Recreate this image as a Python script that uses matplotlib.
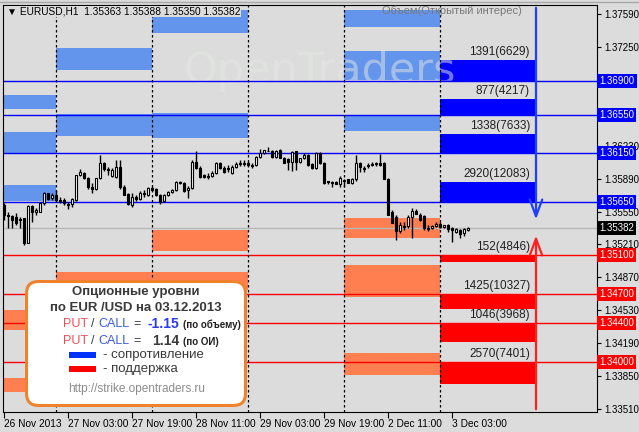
import numpy as np
import matplotlib.pyplot as plt
from matplotlib.patches import Rectangle, FancyBboxPatch

plt.rcParams['font.family'] = ['Liberation Sans', 'DejaVu Sans']

# EURUSD H1, свечи (26 Nov 11:00 ... 3 Dec 07:00)
opens = [1.3562, 1.3551, 1.3550, 1.3549, 1.3547, 1.3548, 1.3522, 1.3561, 1.3554, 1.3555,
         1.3564, 1.3574, 1.3569, 1.3572, 1.3567, 1.3567, 1.3563, 1.3563, 1.3567, 1.3593,
         1.3595, 1.3590, 1.3580, 1.3578, 1.3590, 1.3605, 1.3599, 1.3592, 1.3591, 1.3601,
         1.3580, 1.3573, 1.3562, 1.3570, 1.3568, 1.3574, 1.3572, 1.3579, 1.3578, 1.3572,
         1.3566, 1.3572, 1.3575, 1.3577, 1.3585, 1.3584, 1.3577, 1.3579, 1.3606, 1.3600,
         1.3593, 1.3592, 1.3592, 1.3595, 1.3605, 1.3600, 1.3600, 1.3595, 1.3601, 1.3605,
         1.3605, 1.3605, 1.3603, 1.3603, 1.3611, 1.3615, 1.3618, 1.3618, 1.3611, 1.3619,
         1.3610, 1.3609, 1.3606, 1.3617, 1.3606, 1.3610, 1.3613, 1.3604, 1.3600, 1.3615,
         1.3605, 1.3586, 1.3585, 1.3585, 1.3583, 1.3587, 1.3589, 1.3584, 1.3589, 1.3605,
         1.3600, 1.3603, 1.3604, 1.3604, 1.3605, 1.3605, 1.3589, 1.3555, 1.3549, 1.3535,
         1.3540, 1.3540, 1.3549, 1.3556, 1.3551, 1.3550, 1.3538, 1.3538, 1.3540, 1.3542,
         1.3539, 1.3541, 1.3538, 1.3534, 1.3536, 1.3533, 1.35363]
highs = [1.3564, 1.3554, 1.3551, 1.3553, 1.3549, 1.3548, 1.3562, 1.3562, 1.3559, 1.3564,
         1.3575, 1.3574, 1.3574, 1.3577, 1.3570, 1.3569, 1.3565, 1.3569, 1.3593, 1.3599,
         1.3596, 1.3591, 1.3584, 1.3590, 1.3613, 1.3606, 1.3601, 1.3600, 1.3608, 1.3608,
         1.3582, 1.3574, 1.3574, 1.3572, 1.3576, 1.3577, 1.3580, 1.3581, 1.3579, 1.3573,
         1.3573, 1.3576, 1.3578, 1.3587, 1.3587, 1.3585, 1.3581, 1.3608, 1.3618, 1.3602,
         1.3594, 1.3595, 1.3597, 1.3606, 1.3606, 1.3602, 1.3603, 1.3603, 1.3606, 1.3608,
         1.3608, 1.3607, 1.3605, 1.3612, 1.3620, 1.3619, 1.3622, 1.3619, 1.3619, 1.3620,
         1.3611, 1.3610, 1.3617, 1.3618, 1.3610, 1.3615, 1.3614, 1.3605, 1.3616, 1.3616,
         1.3606, 1.3587, 1.3586, 1.3586, 1.3592, 1.3589, 1.3589, 1.3590, 1.3613, 1.3606,
         1.3602, 1.3605, 1.3606, 1.3606, 1.3614, 1.3606, 1.3590, 1.3557, 1.3551, 1.3544,
         1.3544, 1.3551, 1.3559, 1.3558, 1.3553, 1.3551, 1.3541, 1.3541, 1.3544, 1.3544,
         1.3541, 1.3542, 1.3539, 1.3538, 1.3537, 1.3538, 1.35388]
lows = [1.3546, 1.3538, 1.3538, 1.3541, 1.3538, 1.3520, 1.3522, 1.3544, 1.3551, 1.3555,
        1.3562, 1.3567, 1.3567, 1.3565, 1.3564, 1.3562, 1.3558, 1.3560, 1.3566, 1.3592,
        1.3589, 1.3578, 1.3574, 1.3577, 1.3589, 1.3597, 1.3593, 1.3591, 1.3590, 1.3578,
        1.3572, 1.3562, 1.3560, 1.3566, 1.3567, 1.3570, 1.3571, 1.3576, 1.3571, 1.3563,
        1.3565, 1.3571, 1.3574, 1.3576, 1.3583, 1.3575, 1.3569, 1.3578, 1.3599, 1.3590,
        1.3590, 1.3589, 1.3591, 1.3594, 1.3599, 1.3595, 1.3596, 1.3594, 1.3600, 1.3602,
        1.3602, 1.3602, 1.3600, 1.3602, 1.3610, 1.3614, 1.3617, 1.3610, 1.3610, 1.3610,
        1.3605, 1.3598, 1.3597, 1.3598, 1.3605, 1.3609, 1.3602, 1.3599, 1.3599, 1.3604,
        1.3583, 1.3583, 1.3580, 1.3583, 1.3580, 1.3580, 1.3584, 1.3583, 1.3587, 1.3596,
        1.3596, 1.3600, 1.3602, 1.3602, 1.3602, 1.3589, 1.3551, 1.3543, 1.3526, 1.3533,
        1.3536, 1.3538, 1.3528, 1.3552, 1.3545, 1.3536, 1.3535, 1.3537, 1.3539, 1.3538,
        1.3538, 1.3534, 1.3523, 1.3533, 1.3528, 1.3530, 1.35350]
closes = [1.3551, 1.3550, 1.3546, 1.3543, 1.3546, 1.3522, 1.3561, 1.3554, 1.3557, 1.3564,
          1.3574, 1.3568, 1.3572, 1.3567, 1.3566, 1.3564, 1.3562, 1.3568, 1.3593, 1.3596,
          1.3590, 1.3580, 1.3578, 1.3590, 1.3605, 1.3599, 1.3598, 1.3598, 1.3601, 1.3580,
          1.3572, 1.3563, 1.3570, 1.3568, 1.3574, 1.3573, 1.3579, 1.3577, 1.3572, 1.3565,
          1.3572, 1.3575, 1.3577, 1.3585, 1.3584, 1.3576, 1.3579, 1.3606, 1.3600, 1.3591,
          1.3591, 1.3591, 1.3595, 1.3605, 1.3600, 1.3596, 1.3599, 1.3601, 1.3604, 1.3604,
          1.3604, 1.3603, 1.3602, 1.3611, 1.3615, 1.3619, 1.3617, 1.3611, 1.3618, 1.3610,
          1.3605, 1.3606, 1.3616, 1.3606, 1.3610, 1.3613, 1.3603, 1.3600, 1.3615, 1.3605,
          1.3584, 1.3585, 1.3584, 1.3583, 1.3590, 1.3588, 1.3584, 1.3589, 1.3605, 1.3601,
          1.3599, 1.3602, 1.3603, 1.3605, 1.3603, 1.3589, 1.3551, 1.3543, 1.3535, 1.3541,
          1.3539, 1.3549, 1.3556, 1.3552, 1.3546, 1.3538, 1.3537, 1.3540, 1.3542, 1.3539,
          1.3541, 1.3537, 1.3536, 1.3537, 1.3532, 1.3537, 1.35382]
last_price = 1.35382

# подписи оси времени
time_pos = [0, 16, 32, 48, 64, 80, 96, 112]
time_labels = ['26 Nov 2013', '27 Nov 03:00', '27 Nov 19:00', '28 Nov 11:00',
               '29 Nov 03:00', '29 Nov 19:00', '2 Dec 11:00', '3 Dec 03:00']
day_starts = [13, 37, 61, 85, 109]
# подписи шкалы цен (1.36570 и 1.36910 закрыты метками уровней)
price_ticks = [1.33510, 1.33850, 1.34190, 1.34530, 1.34870, 1.35210, 1.35550,
               1.35890, 1.36230, 1.36570, 1.36910, 1.37250, 1.37590]
price_tick_labels = ['1.33510', '1.33850', '1.34190', '1.34530', '1.34870', '1.35210',
                     '1.35550', '1.35890', '1.36230', '', '', '1.37250', '1.37590']

# уровни прошлых дней: (начало, конец, низ, верх, тип)
past_start = [-1, -1, -1, -1, -1, 13, 13, 13, 37, 37, 37, 37, 85, 85, 85, 85, 85, 85]
past_end = [13, 13, 13, 13, 13, 37, 37, 37, 61, 61, 61, 61, 109, 109, 109, 109, 109, 109]
past_low = [1.3661, 1.3615, 1.3566, 1.3433, 1.3369,
            1.3701, 1.3633, 1.3474,
            1.3739, 1.3631, 1.3514, 1.3474,
            1.3746, 1.3691, 1.3638, 1.3528, 1.3467, 1.3386]
past_high = [1.3675, 1.3637, 1.3582, 1.3453, 1.3383,
             1.3724, 1.3656, 1.3493,
             1.3763, 1.3657, 1.3536, 1.3493,
             1.3763, 1.3721, 1.3655, 1.3548, 1.3500, 1.3409]
past_kind = ['r', 'r', 'r', 's', 's',
             'r', 'r', 's',
             'r', 'r', 's', 's',
             'r', 'r', 'r', 's', 's', 's']

# текущие опционные уровни
resist_levels = [1.3690, 1.3655, 1.3615, 1.3565]
resist_tops = [1.37115, 1.36712, 1.36350, 1.35855]
resist_labels = ['1391(6629)', '877(4217)', '1338(7633)', '2920(12083)']
support_levels = [1.3510, 1.3470, 1.3440, 1.3400]
support_bottoms = [1.35028, 1.34543, 1.34202, 1.33768]
support_labels = ['152(4846)', '1425(10327)', '1046(3968)', '2570(7401)']
resist_arrow_tip = 1.3544
support_arrow_tip = 1.3533

bg = '#dcdcdc'
fig = plt.figure(figsize=(6.39, 4.32), dpi=100)
fig.patch.set_facecolor(bg)
ax = fig.add_axes([3 / 639, 20 / 432, 594 / 639, 407 / 432])
ax.set_facecolor(bg)
ax.set_xlim(-0.25, 148.25)
ax.set_ylim(1.33479, 1.37683)

# прошлые уровни
for s, e, lo, hi, k in zip(past_start, past_end, past_low, past_high, past_kind):
    c = '#6495ed' if k == 'r' else '#ff7f50'
    ax.add_patch(Rectangle((s, lo), e - s, hi - lo, fc=c, ec='none', zorder=1))

ax.text(79, 1.3700, 'OpenTraders', fontsize=31, color='#e4e8e4', alpha=0.5,
        ha='center', va='center', zorder=1.5, family='DejaVu Sans')

# текущие уровни
cur_start, cur_end = day_starts[-1], 133
for lvl, top, lab in zip(resist_levels, resist_tops, resist_labels):
    ax.add_patch(Rectangle((cur_start, lvl), cur_end - cur_start, top - lvl,
                           fc='#0000ff', ec='none', zorder=1))
    ax.text(131.5, top + 0.0002, lab, fontsize=8.5, ha='right', va='bottom',
            color='#202020', zorder=3)
    ax.axhline(lvl, color='#0000ff', lw=1, zorder=2)
for lvl, bot, lab in zip(support_levels, support_bottoms, support_labels):
    ax.add_patch(Rectangle((cur_start, bot), cur_end - cur_start, lvl - bot,
                           fc='#ff0000', ec='none', zorder=1))
    ax.text(131.5, lvl + 0.0002, lab, fontsize=8.5, ha='right', va='bottom',
            color='#202020', zorder=3)
    ax.axhline(lvl, color='#ff0000', lw=1, zorder=2)
ax.axhline(last_price, color='#b8b8b8', lw=1, zorder=2)

for d in day_starts:
    ax.axvline(d, color='black', lw=0.9, ls=(0, (2, 2)), zorder=3)

# свечи
x = np.arange(len(opens))
o = np.array(opens)
c = np.array(closes)
ax.vlines(x, lows, highs, color='black', lw=1, zorder=4)
up = c >= o
ax.bar(x[up], c[up] - o[up], bottom=o[up], width=0.65, color='white',
       edgecolor='black', lw=0.8, zorder=5)
ax.bar(x[~up], c[~up] - o[~up], bottom=o[~up], width=0.65, color='black',
       edgecolor='black', lw=0.8, zorder=5)

# стрелки
ax.annotate('', xy=(133, resist_arrow_tip), xytext=(133, 1.37683),
            arrowprops=dict(arrowstyle='->,head_length=1.2,head_width=0.45',
                            color='#2040ff', lw=1.6), zorder=6)
ax.annotate('', xy=(133, support_arrow_tip), xytext=(133, 1.33479),
            arrowprops=dict(arrowstyle='->,head_length=1.2,head_width=0.45',
                            color='#ff2020', lw=1.6), zorder=6)

# оси
ax.yaxis.tick_right()
ax.set_yticks(price_ticks)
ax.set_yticklabels(price_tick_labels)
ax.tick_params(axis='y', length=3, pad=2, labelsize=7, width=0.8)
ax.set_xticks(time_pos)
ax.set_xticklabels(time_labels, ha='left')
ax.tick_params(axis='x', length=4, pad=1, labelsize=7.3, width=0.8)
for sp in ax.spines.values():
    sp.set_linewidth(0.8)

ytr = ax.get_yaxis_transform()
for lvl, col in zip(resist_levels + support_levels, ['#0000ff'] * 4 + ['#ff0000'] * 4):
    ax.text(1.004, lvl, '%.5f' % lvl, transform=ytr, fontsize=7, color='white',
            va='center', ha='left', clip_on=False, zorder=10,
            bbox=dict(fc=col, ec='none', pad=1.5))
ax.text(1.004, last_price, '%.5f' % last_price, transform=ytr, fontsize=7, color='white',
        va='center', ha='left', clip_on=False, zorder=10,
        bbox=dict(fc='black', ec='none', pad=1.5))

ax.text(0.006, 0.997, '\u25bc EURUSD,H1  1.35363 1.35388 1.35350 1.35382',
        transform=ax.transAxes, fontsize=7.3, va='top', ha='left', zorder=10,
        bbox=dict(fc=bg, ec='none', pad=0.5))
ax.text(112, 1.37675, 'Объем(Открытый интерес)', fontsize=8, color='#787878',
        ha='center', va='top', zorder=10)
fig.add_artist(plt.Line2D([0, 1], [1 - 1.5 / 432] * 2, color='#a8a8a8', lw=1))

# легенда
lax = fig.add_axes([25 / 639, 1 - 407 / 432, 222 / 639, 127 / 432])
lax.set_xlim(0, 222)
lax.set_ylim(127, 0)
lax.axis('off')
lax.add_patch(FancyBboxPatch((1.5, 1.5), 219, 124, boxstyle='round,pad=0,rounding_size=12',
                             fc='white', ec='#f0822d', lw=2.2))
dark = '#3a3a3a'
lax.text(111, 12, 'Опционные уровни', fontsize=9.5, weight='bold', color=dark,
         ha='center', va='center')
lax.text(111, 28, 'по EUR /USD на 03.12.2013', fontsize=9.5, weight='bold', color=dark,
         ha='center', va='center')
for yy, val, vcol, vx, note in [(44, '-1.15', '#2a3cf0', 122, '(по объему)'),
                                (61, '1.14', dark, 127, '(по ОИ)')]:
    lax.text(38, yy, 'PUT', fontsize=9, color='#e8505a', va='center')
    lax.text(66, yy, '/', fontsize=9, color=dark, va='center')
    lax.text(73, yy, 'CALL', fontsize=9, color='#3a5ae0', va='center')
    lax.text(108, yy, '=', fontsize=9, color=dark, va='center')
    lax.text(vx, yy, val, fontsize=10, weight='bold', color=vcol, va='center')
    lax.text(158, yy + 1, note, fontsize=7, weight='bold', color='#202020', va='center')
lax.add_patch(Rectangle((44, 72), 27, 6, fc='#0033ff', ec='none'))
lax.text(78, 75, '- сопротивление', fontsize=9.5, color=dark, va='center')
lax.add_patch(Rectangle((44, 86), 27, 6, fc='#ff0000', ec='none'))
lax.text(78, 89, '- поддержка', fontsize=9.5, color=dark, va='center')
lax.text(112, 109, 'http://strike.opentraders.ru', fontsize=8.5, color='#8c8c8c',
         ha='center', va='center')

fig.savefig('out.png', dpi=100, facecolor=bg)
